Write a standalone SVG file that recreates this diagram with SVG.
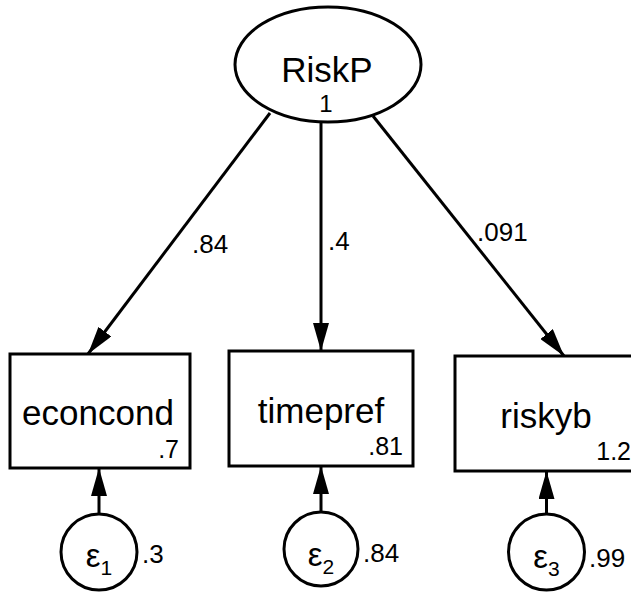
<svg xmlns="http://www.w3.org/2000/svg" width="631" height="593" viewBox="0 0 631 593">
  <defs>
    <marker id="arrow" viewBox="0 0 28 16" refX="28" refY="8" markerWidth="28" markerHeight="16" markerUnits="userSpaceOnUse" orient="auto">
      <path d="M0,0 L28,8 L0,16 Z" fill="#000"/>
    </marker>
    <style>
      .shape { fill: #fff; stroke: #000; stroke-width: 3; }
      .edge { fill: none; stroke: #000; stroke-width: 3; marker-end: url(#arrow); }
      text { font-family: "Liberation Sans", Arial, Helvetica, sans-serif; fill: #000; }
      .name { font-size: 35px; text-anchor: middle; }
      .var { font-size: 25px; text-anchor: end; }
      .coef { font-size: 26px; }
      .eps { font-size: 33px; text-anchor: middle; }
      .sub { font-size: 21px; }
    </style>
  </defs>

  <!-- path coefficients and error arrows -->
  <g id="connectors">
    <line class="edge" x1="270" y1="113" x2="88" y2="354"/>
    <line class="edge" x1="321" y1="122" x2="321" y2="351"/>
    <line class="edge" x1="373" y1="116" x2="564" y2="356"/>
    <line class="edge" x1="99" y1="514" x2="99" y2="468"/>
    <line class="edge" x1="321" y1="512" x2="321" y2="466"/>
    <line class="edge" x1="546.5" y1="514" x2="546.5" y2="471"/>
    <text class="coef" x="192" y="253">.84</text>
    <text class="coef" x="328" y="250">.4</text>
    <text class="coef" x="477" y="241">.091</text>
  </g>

  <!-- latent factor -->
  <g id="RiskP">
    <ellipse class="shape" cx="328" cy="64.5" rx="93" ry="57.5"/>
    <text class="name" x="327" y="82">RiskP</text>
    <text class="name" x="326" y="112" style="font-size:24px">1</text>
  </g>

  <!-- observed indicators -->
  <g id="econcond">
    <rect class="shape" x="10" y="354" width="180" height="114"/>
    <text class="name" x="98" y="425">econcond</text>
    <text class="var" x="179" y="458">.7</text>
  </g>

  <g id="timepref">
    <rect class="shape" x="229" y="351" width="184" height="115"/>
    <text class="name" x="321" y="423">timepref</text>
    <text class="var" x="403" y="455">.81</text>
  </g>

  <g id="riskyb">
    <rect class="shape" x="455" y="356" width="182" height="115"/>
    <text class="name" x="546" y="428">riskyb</text>
    <text class="var" x="631" y="460">1.2</text>
  </g>

  <!-- error terms -->
  <g id="e1">
    <circle class="shape" cx="99" cy="552" r="38"/>
    <text class="eps" x="99" y="567">ε<tspan class="sub" dy="8">1</tspan></text>
    <text class="coef" x="142" y="563">.3</text>
  </g>

  <g id="e2">
    <circle class="shape" cx="321" cy="549" r="37"/>
    <text class="eps" x="321" y="566">ε<tspan class="sub" dy="8">2</tspan></text>
    <text class="coef" x="363" y="562">.84</text>
  </g>

  <g id="e3">
    <circle class="shape" cx="546.5" cy="552" r="38"/>
    <text class="eps" x="546.5" y="568">ε<tspan class="sub" dy="8">3</tspan></text>
    <text class="coef" x="589" y="567">.99</text>
  </g>
</svg>
